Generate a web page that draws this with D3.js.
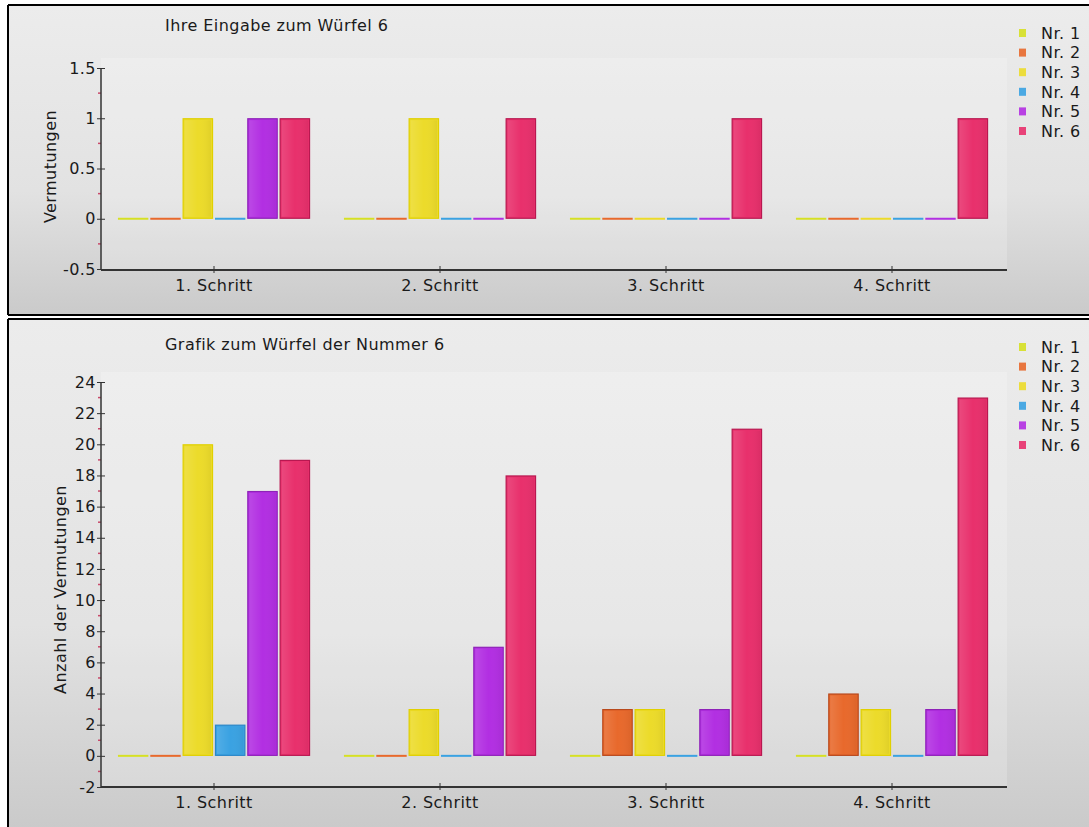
<!DOCTYPE html>
<html><head><meta charset="utf-8">
<script src="https://cdn.jsdelivr.net/npm/d3@7"></script>
<style>
html,body{margin:0;padding:0;background:#fff;}
svg{display:block;font-family:"DejaVu Sans",Verdana,sans-serif;}
</style></head>
<body>
<script>
const steps = ["1. Schritt","2. Schritt","3. Schritt","4. Schritt"];
const series = ["Nr. 1","Nr. 2","Nr. 3","Nr. 4","Nr. 5","Nr. 6"];
const fills   = ["#d6e024","#e8692c","#ecdb2a","#3aa2e2","#b22fe2","#e8306c"];
const strokes = ["#c0c800","#b8481c","#e0d000","#2a86c8","#8e22b8","#b81850"];

// top chart: "Ihre Eingabe zum Würfel 6"
const topTitle = "Ihre Eingabe zum Würfel 6";
const topYLabel = "Vermutungen";
const topTicks = [-0.5, 0, 0.5, 1, 1.5];
const topValues = [ // per step, Nr.1..Nr.6
  [0,0,1,0,1,1],
  [0,0,1,0,0,1],
  [0,0,0,0,0,1],
  [0,0,0,0,0,1]
];
// bottom chart: "Grafik zum Würfel der Nummer 6"
const botTitle = "Grafik zum Würfel der Nummer 6";
const botYLabel = "Anzahl der Vermutungen";
const botTicks = [-2,0,2,4,6,8,10,12,14,16,18,20,22,24];
const botValues = [
  [0,0,20,2,17,19],
  [0,0,3,0,7,18],
  [0,3,3,0,3,21],
  [0,4,3,0,3,23]
];

const W = 1089, H = 827;
const FS = 16, LS = 0.45;
const svg = d3.select("body").append("svg").attr("width", W).attr("height", H);
const defs = svg.append("defs");
const g1 = defs.append("linearGradient").attr("id","bg").attr("x1",0).attr("y1",0).attr("x2",0).attr("y2",1);
g1.append("stop").attr("offset","0%").attr("stop-color","#ececec");
g1.append("stop").attr("offset","60%").attr("stop-color","#e2e2e2");
g1.append("stop").attr("offset","100%").attr("stop-color","#cacaca");
const bg = defs.append("linearGradient").attr("id","barg").attr("x1",0).attr("y1",0).attr("x2",1).attr("y2",0);
bg.append("stop").attr("offset","0%").attr("stop-color","#fff").attr("stop-opacity",0.12);
bg.append("stop").attr("offset","50%").attr("stop-color","#fff").attr("stop-opacity",0);
bg.append("stop").attr("offset","100%").attr("stop-color","#000").attr("stop-opacity",0.05);

function txt(sel){ return sel.attr("font-size",FS).attr("letter-spacing",LS).attr("fill","#1a1a1a")
  .attr("font-family","DejaVu Sans, sans-serif"); }

function panel(cfg){
  const {top, bottom, title, yLabel, ticks, values, yDomain, yRange, axisY, labelX, titleY, legendY, xLabelY, border} = cfg;
  const p = svg.append("g");
  p.append("rect").attr("x",8).attr("y",top).attr("width",W).attr("height",bottom-top).attr("fill","url(#bg)");
  p.append("rect").attr("x",101).attr("y",yRange[1]-10).attr("width",906).attr("height",axisY-(yRange[1]-10))
    .attr("fill","#ffffff").attr("opacity",0.2);
  p.append("line").attr("x1",8).attr("x2",W).attr("y1",top).attr("y2",top).attr("stroke","#000").attr("stroke-width",2);
  p.append("line").attr("x1",8).attr("x2",8).attr("y1",top).attr("y2",bottom).attr("stroke","#000").attr("stroke-width",2);
  if (border) p.append("line").attr("x1",8).attr("x2",W).attr("y1",bottom).attr("y2",bottom).attr("stroke","#000").attr("stroke-width",2);

  const y = d3.scaleLinear().domain(yDomain).range(yRange);
  const x0 = d3.scaleBand().domain(steps).range([101,1005]).paddingInner(0.15).paddingOuter(0.075);
  const x1 = d3.scaleBand().domain(series).range([0, x0.bandwidth()]).paddingInner(0.06);

  txt(p.append("text").attr("x",165).attr("y",titleY)).text(title);

  steps.forEach((s, i) => {
    const gg = p.append("g").attr("transform", `translate(${x0(s)},0)`);
    series.forEach((sr, j) => {
      const v = values[i][j];
      if (v === 0) {
        gg.append("line").attr("x1", x1(sr)).attr("x2", x1(sr)+x1.bandwidth())
          .attr("y1", y(0)).attr("y2", y(0)).attr("stroke", fills[j]).attr("stroke-width", 2);
      } else {
        gg.append("rect").attr("x", x1(sr)+0.5).attr("y", y(v)+0.5)
          .attr("width", x1.bandwidth()-1).attr("height", y(0)-y(v)-1)
          .attr("fill", fills[j]).attr("stroke", strokes[j]).attr("stroke-width", 1.2);
        gg.append("rect").attr("x", x1(sr)+2).attr("y", y(v)+2)
          .attr("width", x1.bandwidth()-4).attr("height", Math.max(0,y(0)-y(v)-4))
          .attr("fill", "url(#barg)");
      }
    });
  });

  const ya = d3.axisLeft(y).tickValues(ticks).tickSize(4).tickFormat(d => String(d));
  const yg = p.append("g").attr("transform","translate(101,0)").call(ya);
  yg.select(".domain").remove();
  yg.selectAll(".tick line").attr("x1",-4).attr("x2",4).attr("stroke","#333");
  txt(yg.selectAll(".tick text")).attr("x",-5);
  const minor = d3.range(ticks.length-1).map(k => (ticks[k]+ticks[k+1])/2);
  p.append("g").selectAll("line").data(minor).join("line")
    .attr("x1",98).attr("x2",101).attr("y1",d=>y(d)).attr("y2",d=>y(d)).attr("stroke","#c84a6a").attr("stroke-width",1.5);
  p.append("line").attr("x1",101).attr("x2",101).attr("y1",yRange[1]).attr("y2",axisY).attr("stroke","#333").attr("stroke-width",1.5);

  p.append("line").attr("x1",101).attr("x2",1007).attr("y1",axisY).attr("y2",axisY).attr("stroke","#333").attr("stroke-width",2);
  const xa = d3.axisBottom(x0).tickSize(4);
  const xg = p.append("g").attr("transform",`translate(0,${axisY})`).call(xa);
  xg.select(".domain").remove();
  xg.selectAll(".tick line").attr("y1",-4).attr("y2",3).attr("stroke","#333");
  txt(xg.selectAll(".tick text")).attr("y",xLabelY-axisY-12).attr("dy","0");

  txt(p.append("text").attr("transform",`translate(${labelX},${(yRange[0]+yRange[1])/2 + cfg.labelShift}) rotate(-90)`)
    .attr("text-anchor","middle")).text(yLabel);

  const lg = p.append("g");
  series.forEach((sr, j) => {
    const cy = legendY + j*19.6;
    lg.append("rect").attr("x",1019).attr("y",cy-4).attr("width",7).attr("height",8).attr("fill",fills[j]).attr("opacity",0.9);
    txt(lg.append("text").attr("x",1041).attr("y",cy).attr("dy","0.36em")).text(sr);
  });
}

panel({top:5, bottom:315, border:true, title:topTitle, yLabel:topYLabel, ticks:topTicks, values:topValues,
  yDomain:[-0.5,1.5], yRange:[269,68], axisY:270, labelX:56, labelShift:-2, titleY:31, legendY:33, xLabelY:303});
panel({top:319, bottom:H+2, border:false, title:botTitle, yLabel:botYLabel, ticks:botTicks, values:botValues,
  yDomain:[-2,24], yRange:[787,382], axisY:787, labelX:66, labelShift:5, titleY:350, legendY:347, xLabelY:820});
</script>
</body></html>
